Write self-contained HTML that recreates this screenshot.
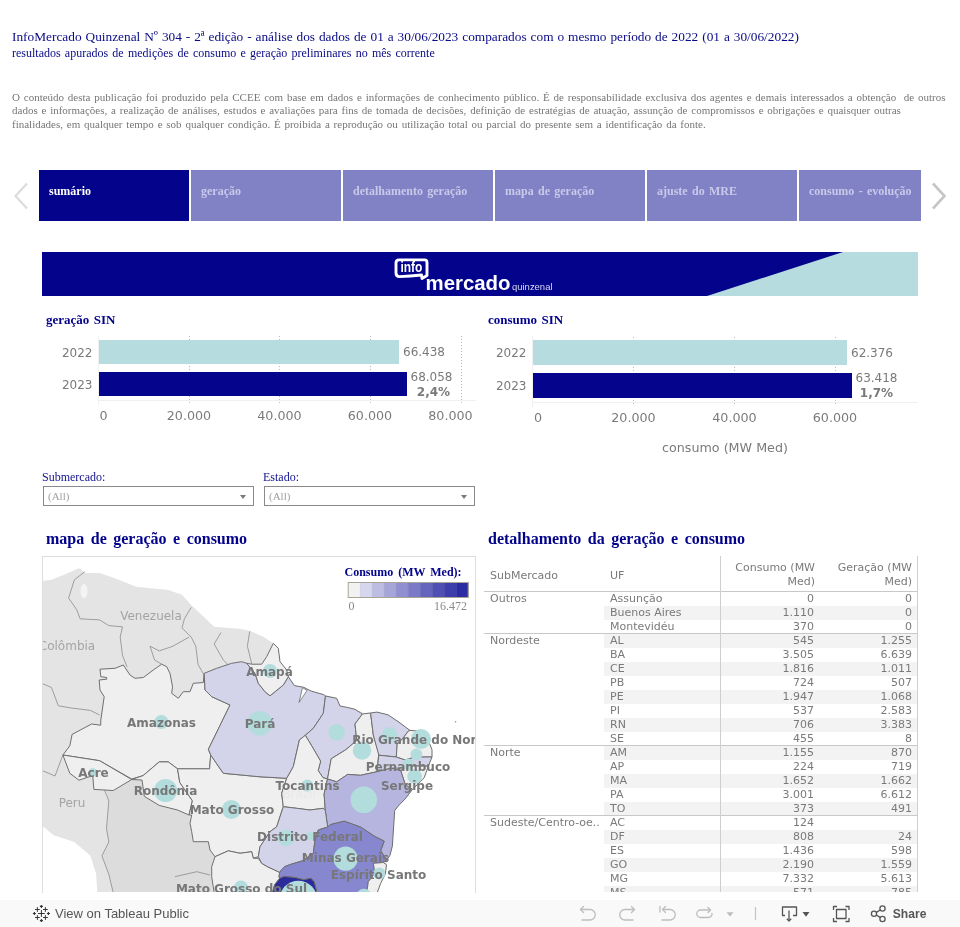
<!DOCTYPE html>
<html><head><meta charset="utf-8">
<style>
*{margin:0;padding:0;box-sizing:border-box}
html,body{width:960px;height:927px;overflow:hidden;background:#fff}
body{position:relative;font-family:"Liberation Serif",serif}
.a{position:absolute;white-space:nowrap}
.t1{left:12px;top:28.5px;font-size:13.33px;word-spacing:0.6px;color:#0a0a88;line-height:16px}
.t2{left:12px;top:45px;font-size:12px;word-spacing:1.2px;color:#0a0a88;line-height:16px}
.disc{left:12px;top:90.6px;font-size:11px;word-spacing:1.05px;color:#767676;line-height:13.75px}
.tab{position:absolute;top:170px;height:51px;width:150px;background:#8181c6;color:#c9c9e9;font-weight:bold;font-size:12px;word-spacing:1.3px;padding:14px 0 0 10px}
.tab.sel{background:#03038c;color:#fff}
.banner{left:42px;top:252px;width:876px;height:44px;background:#03038c;overflow:hidden}
.sans{font-family:"DejaVu Sans",sans-serif}
.ctitle{font-weight:bold;font-size:13px;color:#03036e}
.lbl{font-family:"DejaVu Sans",sans-serif;font-size:12.5px;color:#777}
.flt{font-size:12px;color:#12128e}
.dd{position:absolute;height:20px;border:1px solid #8a8a8a;background:#fff;font-size:11px;color:#a0a0a0;padding:3px 0 0 4px;font-family:"Liberation Serif",serif}
.dd:after{content:"";position:absolute;right:7px;top:8px;border-left:3.5px solid transparent;border-right:3.5px solid transparent;border-top:4px solid #7a7a7a}
.sec{font-weight:bold;font-size:16px;color:#02028a;word-spacing:2.5px;line-height:20px}
.tbl{font-family:"DejaVu Sans",sans-serif;font-size:11px;color:#7a7a7a;line-height:14px}
.tbl .r{text-align:right}
.band{background:#f3f3f3}
.hl{height:1px;background:#c8c8c8}
.vl{width:1px;background:#cfcfcf}
.toolbar{left:0;top:900px;width:960px;height:27px;background:#f9f9f9}
</style></head><body><div id="wrap" style="position:absolute;left:0;top:0;width:960px;height:927px;will-change:transform">
<div class="a t1">InfoMercado Quinzenal Nº 304 - 2ª edição - análise dos dados de 01 a 30/06/2023 comparados com o mesmo período de 2022 (01 a 30/06/2022)</div>
<div class="a t2">resultados apurados de medições de consumo e geração preliminares no mês corrente</div>
<div class="a disc">O conteúdo desta publicação foi produzido pela CCEE com base em dados e informações de conhecimento público. É de responsabilidade exclusiva dos agentes e demais interessados a obtenção&nbsp; de outros<br>dados e informações, a realização de análises, estudos e avaliações para fins de tomada de decisões, definição de estratégias de atuação, assunção de compromissos e obrigações e quaisquer outras<br>finalidades, em qualquer tempo e sob qualquer condição. É proibida a reprodução ou utilização total ou parcial do presente sem a identificação da fonte.</div>

<!-- tabs -->
<svg class="a" style="left:13px;top:182px" width="16" height="28"><path d="M14 1.5 L2.5 14 L14 26.5" fill="none" stroke="#dcdcdc" stroke-width="2.2"/></svg>
<div class="tab sel" style="left:39px">sumário</div>
<div class="tab" style="left:191px">geração</div>
<div class="tab" style="left:343px">detalhamento geração</div>
<div class="tab" style="left:495px">mapa de geração</div>
<div class="tab" style="left:647px">ajuste do MRE</div>
<div class="tab" style="left:799px;width:122px">consumo - evolução</div>
<svg class="a" style="left:931px;top:182px" width="16" height="28"><path d="M2 1.5 L13.5 14 L2 26.5" fill="none" stroke="#c6c6c6" stroke-width="2.6"/></svg>

<!-- banner -->
<div class="a banner">
<svg width="876" height="44" style="position:absolute;left:0;top:0"><polygon points="801,0 876,0 876,44 665,44" fill="#b6dce0"/>
<path d="M357 7.9 H382.5 Q385 7.9 385 10.4 V23.6 L380 26.6 L379.6 23 Q368 24.4 357.5 24.6 Q354 24.6 354 21 V11 Q354 7.9 357 7.9 Z" fill="none" stroke="#fff" stroke-width="2.9" stroke-linejoin="round"/>
<text x="358.4" y="20" font-family="Liberation Sans,sans-serif" font-weight="bold" font-size="14.5" fill="#fff" textLength="22" lengthAdjust="spacingAndGlyphs">info</text>
<text x="383.5" y="38.2" font-family="Liberation Sans,sans-serif" font-weight="bold" font-size="20.4" fill="#fff" textLength="85" lengthAdjust="spacingAndGlyphs">mercado</text>
<text x="470" y="38.2" font-family="Liberation Sans,sans-serif" font-size="9.8" fill="#dcdcf0" textLength="40.5" lengthAdjust="spacingAndGlyphs">quinzenal</text>
</svg>
</div>


<!-- charts -->
<svg class="a" style="left:0;top:300px" width="960" height="170" viewBox="0 300 960 170">
<g font-family="Liberation Serif,serif" font-weight="bold" font-size="13" fill="#02028a" word-spacing="1.2">
<text x="46" y="324">geração SIN</text>
<text x="488" y="324">consumo SIN</text>
</g>
<g stroke="#f0f0f0" stroke-width="1" fill="none">
<line x1="98.5" y1="336" x2="98.5" y2="405"/>
<line x1="98" y1="400.5" x2="476" y2="400.5"/>
<line x1="532.5" y1="336" x2="532.5" y2="407"/>
<line x1="532" y1="402.5" x2="918" y2="402.5"/>
</g>
<g stroke="#bcbcbc" stroke-width="1" stroke-dasharray="1 2" fill="none">
<line x1="189.5" y1="336" x2="189.5" y2="404"/>
<line x1="279.5" y1="336" x2="279.5" y2="404"/>
<line x1="370.5" y1="336" x2="370.5" y2="404"/>
<line x1="461.5" y1="336" x2="461.5" y2="404"/>
<line x1="633.5" y1="337" x2="633.5" y2="406"/>
<line x1="734.5" y1="337" x2="734.5" y2="406"/>
<line x1="835.5" y1="337" x2="835.5" y2="406"/>
</g>
<rect x="99" y="340" width="300" height="24" fill="#b6dce0"/>
<rect x="99" y="372" width="308" height="24" fill="#04048c"/>
<rect x="533" y="340" width="314" height="25" fill="#b6dce0"/>
<rect x="533" y="373" width="319" height="25" fill="#04048c"/>
<g font-family="DejaVu Sans,sans-serif" font-size="12" fill="#7a7a7a">
<text x="92.5" y="357" text-anchor="end">2022</text>
<text x="92.5" y="389" text-anchor="end">2023</text>
<text x="526.5" y="357" text-anchor="end">2022</text>
<text x="526.5" y="390" text-anchor="end">2023</text>
<text x="403" y="356">66.438</text>
<text x="431.5" y="380.6" text-anchor="middle">68.058</text>
<text x="433.5" y="395.6" text-anchor="middle" font-weight="bold">2,4%</text>
<text x="851" y="357">62.376</text>
<text x="876.5" y="381.7" text-anchor="middle">63.418</text>
<text x="876.5" y="396.6" text-anchor="middle" font-weight="bold">1,7%</text>
</g>
<g font-family="DejaVu Sans,sans-serif" font-size="12.7" fill="#7a7a7a" text-anchor="middle">
<text x="103.5" y="420">0</text>
<text x="189" y="420">20.000</text>
<text x="279.5" y="420">40.000</text>
<text x="370" y="420">60.000</text>
<text x="450.5" y="420">80.000</text>
<text x="538" y="422">0</text>
<text x="633.5" y="422">20.000</text>
<text x="734.5" y="422">40.000</text>
<text x="835" y="422">60.000</text>
<text x="725" y="451.5">consumo (MW Med)</text>
</g>
</svg>


<!-- filters -->
<div class="a flt" style="left:42px;top:470px">Submercado:</div>
<div class="dd" style="left:43px;top:486px;width:211px">(All)</div>
<div class="a flt" style="left:263px;top:470px">Estado:</div>
<div class="dd" style="left:264px;top:486px;width:211px">(All)</div>

<div class="a sec" style="left:46px;top:529px">mapa de geração e consumo</div>
<div class="a sec" style="left:488px;top:529px">detalhamento da geração e consumo</div>

<!-- map -->
<svg class="a" style="left:42px;top:556px" width="434" height="336" viewBox="42 556 434 336">
<rect x="41" y="555" width="436" height="338" fill="#e4e4e4"/>
<polygon points="106,790 113.3,790.5 131.7,780.2 142,779 144.3,796.3 159.2,805.4 177.5,810 189,815.7 191.3,828.3 192.4,841 209.6,842 216.5,857 214.2,874.2 211.9,893 113,893 108.8,874.2 101.9,855.8 108.8,842 106.5,828.3 108.8,800.8" fill="#dcdcdc"/>
<polygon points="41,555 41,581 51.5,579.8 62.9,575.2 79,568.3 85.8,573 99.6,573 115.6,578.6 136.2,586.7 168.3,590 182,594.7 191.2,605 214.2,626.8 241.6,629 250,631 263.3,636.7 273.3,643.3 278.3,648.3 280,661.7 286.7,670 288.3,676.7 294.4,685.6 303.7,687.3 311,691 323.8,694.7 336.7,698.3 340,706 347.7,707.5 355,709.3 364.2,713 377,712.1 388,714.8 399,722.2 410,730.4 421,731.3 428.3,740.5 432,749.7 432,757 428.3,766.2 424.2,777.7 412.4,789.4 405.3,798.8 398.3,805.9 394.7,810.6 393.6,827.1 392.4,845.9 390,855.3 386.5,864.7 385.3,874.1 380.6,883.5 377.1,893 477,893 477,555" fill="#fff"/>
<polygon points="41,825 53.7,835.2 74.4,842 90.4,855.8 96.2,874.2 97.3,893 41,893" fill="#fff"/>
<ellipse cx="84" cy="591" rx="3.5" ry="7" fill="#f4f4f4"/>
<g fill="none" stroke="#8c8c8c" stroke-width="0.8">
<polyline points="84.7,571.8 74.4,579.8 68.6,598.1 76.7,609.6 80.1,618.8 99.6,619.9 108.8,625.6 122.5,626.8 120.2,637.1 122.5,655.4 127.1,666.9"/>
<polyline points="191.2,607.3 184.4,618.8 182,627.9 191.2,637.1 195.8,646.2 198.1,664.6 203.3,673.7"/>
<polyline points="150,646.2 159.2,650.9 173,646.2 189,637.1"/>
<polyline points="150,646.2 154.6,660 161.7,664.2"/>
<polyline points="221,632.5 214.2,644 223.3,660 228,664.6"/>
<polyline points="249.7,631.4 247.4,646.2 250.8,660 252,665.8"/>
<polyline points="41,683 51.5,687.5 58.3,705.8 72,708.1 90.4,710.4 99.6,715"/>
<polyline points="104.2,789.4 108.8,800.8 106.5,828.3 108.8,842 101.9,855.8 108.8,874.2 113.3,893"/>
<polyline points="175,876.7 196.7,871.7 210,875"/>
<polyline points="41,770 55,776 62.9,755"/>
</g>
<g stroke="#6f6f6f" stroke-width="1" stroke-linejoin="round">
<polygon points="100,669.2 115,668.3 123.3,665 126.7,670 130,675 135,678.3 143.3,677.5 153.3,670 161.7,664.2 166.7,666.7 170,673.3 172.5,686.7 171.7,693.3 178.3,698.3 183.3,691.7 190,691.7 193.3,683.3 203.3,682.5 204.2,673.3 205,690 211.7,696.7 230,705 208.4,749.3 210.7,755 209.6,768.8 177.5,768.8 168.3,761.9 159.2,761.9 143.1,775.6 131.7,779 99.6,760.7 62.9,755 69.8,745.8 72.1,734.4 91.6,724 100.7,725.2 100.8,720 104.2,696.7 100,690 99.2,680 106.7,679.2 106.7,677.5 100.8,676.7" fill="#efefef"/>
<polygon points="62.9,755 99.6,760.7 131.7,779.5 113.3,790.5 93.9,789.4 92.7,775.6 79,780.2 69.8,773.3" fill="#efefef"/>
<polygon points="131.7,779.5 143.1,775.6 159.2,761.9 168.3,761.9 177.5,768.8 179.8,782.5 192.4,800.8 189,815 177.5,810 159.2,805.4 144.3,796.3 142,780" fill="#efefef"/>
<polygon points="177.5,768.8 209.6,768.8 210.7,755 223.3,773.3 260,776.8 286.7,778.3 281.7,793.3 283.3,806.7 276.7,826.7 270,831.7 260,846.7 258.3,856.7 253.3,858.3 251.7,851.7 240,853.3 228.3,850.8 215,856.7 210,850 208.3,841.7 193.3,841.7 191.7,831.7 190,823.3 191.7,815 189,815 192.4,800.8 179.8,782.5" fill="#efefef"/>
<polygon points="215,856.7 228.3,850.8 240,853.3 251.7,851.7 253.3,858.3 258.3,858.3 261.7,863.3 267.3,866.6 279.7,872.4 279,876.8 279.7,878.2 274.6,884.8 272.4,893 214.2,893 211.7,876.7 211.7,866.7" fill="#efefef"/>
<polygon points="204.2,673.3 216.7,668.3 231.7,663.3 241.7,661.7 246.7,663.3 255,673.3 258.3,683.3 265,691.7 270,695.8 275,691.7 283.3,685 288.3,676.7 294.4,685.6 303.7,687.3 311,691 323.8,694.7 325.5,696 323.3,713.3 313.3,728.3 305.3,735.3 299.4,740 293.3,766.7 286.7,778.3 260,776.8 223.3,773.3 210.7,755 208.4,749.3 230,705 211.7,696.7 205,690" fill="#d3d3ea"/>
<polygon points="273.3,643.3 278.3,648.3 280,661.7 286.7,670 288.3,676.7 283.3,685 275,691.7 270,695.8 265,691.7 258.3,683.3 255,673.3 246.7,663.3 251.7,664.2 261.7,664.2 266.7,656.7" fill="#efefef"/>
<polygon points="325.5,696 336.7,698.3 340,706 347.7,707.5 355,709.3 362.4,714 355,724 356.8,740.5 345.8,749.7 331.2,758.8 327.5,779 323,777.7 318.2,770.6 320.6,761.2 312.4,747 305.3,735.3 313.3,728.3 323.3,713.3" fill="#d3d3ea"/>
<polygon points="305.3,735.3 312.4,747 320.6,761.2 318.2,770.6 323,777.7 327.5,779 324.1,794.1 325.3,810.6 323.3,808.3 310,810 296.7,808.3 283.3,806.7 281.7,793.3 286.7,778.3 293.3,766.7 299.4,740" fill="#efefef"/>
<polygon points="362.4,714 370.6,713 373.3,735 378.8,753.3 377,771.7 360.5,775.3 347.7,774.4 336.7,781.8 327.5,779 331.2,758.8 345.8,749.7 356.8,740.5 355,724" fill="#efefef"/>
<polygon points="370.6,713 377,712.1 388,714.8 399,722.2 410,730.4 408.2,731.3 402.7,738.7 397.2,744.2 396.3,757 378.8,755.2 373.3,735" fill="#d3d3ea"/>
<polygon points="410,730.4 421,731.3 428.3,740.5 432,749.7 432,757 415,757 405,760 396.3,757 397.2,744.2 402.7,738.7 408.2,731.3" fill="#efefef"/>
<polygon points="378.8,755.2 396.3,757 405,760 415,757 432,757 428.3,766.2 415,766 405,768 391.2,768.2 377,771.7" fill="#d3d3ea"/>
<polygon points="415,766 428.3,766.2 424.2,777.7 412.4,789.4 405.3,784.7 400.7,770.6 405,768" fill="#efefef"/>
<polygon points="327.5,779 336.7,781.8 347.7,774.4 360.5,775.3 377,771.7 391.2,768.2 400.7,770.6 405.3,784.7 412.4,789.4 405.3,798.8 398.3,805.9 394.7,810.6 393.6,827.1 392.4,845.9 390,855.3 386.5,860 380.7,850.6 384.2,841.2 374.8,836.5 360.6,827.1 344.2,821.2 330,824.7 327.7,827 325.3,810.6 324.1,794.1" fill="#b5b5df"/>
<polygon points="283.3,806.7 296.7,808.3 310,810 323.3,808.3 325.3,810.6 327.7,827 318.3,830 315,840 313.3,853.3 303,860.7 297.9,862.2 290.6,864.4 284.8,866.6 281.2,870.2 279.7,872.4 267.3,866.6 261.7,863.3 258.3,856.7 260,846.7 270,831.7 276.7,826.7" fill="#d3d3ea"/>
<polygon points="318.3,830 327.7,827 330,824.7 344.2,821.2 360.6,827.1 374.8,836.5 384.2,841.2 380.7,850.6 386.5,860 383.3,862.5 373.3,863.3 375,873.3 368.3,881.7 366.7,893 316.5,893 316.2,889.2 314.3,881.9 311,878.2 303.8,879.7 295,877.5 284,876.4 279.7,878.2 279,876.8 279.7,872.4 281.2,870.2 284.8,866.6 290.6,864.4 297.9,862.2 303,860.7 313.3,853.3 315,840" fill="#8787d0"/>
<polygon points="373.3,863.3 383.3,862.5 386.5,864.7 385.3,874.1 380.6,883.5 377.1,893 366.7,893 368.3,881.7 375,873.3" fill="#efefef"/>
<polygon points="279.7,878.2 284,876.4 295,877.5 303.8,879.7 311,878.2 314.3,881.9 316.2,889.2 316.5,893 272.4,893 274.6,884.8" fill="#2b2b9b"/>
</g>
<path d="M302.5 687.6 L307 690.5 L299 702.5 Z" fill="#fff" stroke="#6f6f6f" stroke-width="0.8" stroke-linejoin="round"/>
<text x="299" y="797.5" font-family="DejaVu Sans,sans-serif" font-size="12" fill="#e8e8e8" text-anchor="middle">Brazil</text>
<circle cx="455.6" cy="721.8" r="0.8" fill="#999"/>
<g fill="#b3dcdd">
<circle cx="270" cy="671" r="7"/>
<circle cx="259.8" cy="723.3" r="12.4"/>
<circle cx="161.3" cy="722" r="7"/>
<circle cx="92.7" cy="772.2" r="4"/>
<circle cx="165.6" cy="790.5" r="11.5"/>
<circle cx="231.4" cy="809.5" r="9.5"/>
<circle cx="336.7" cy="732.3" r="8.3"/>
<circle cx="362" cy="750.6" r="9.2"/>
<circle cx="389.5" cy="735" r="7.7"/>
<circle cx="421" cy="739" r="10"/>
<circle cx="416.4" cy="754.3" r="5.9"/>
<circle cx="408.2" cy="764.3" r="5.9"/>
<circle cx="414.6" cy="776.3" r="7.3"/>
<circle cx="363.8" cy="799.8" r="13.3"/>
<circle cx="307.3" cy="785.5" r="5.9"/>
<circle cx="286" cy="838" r="8.2"/>
<circle cx="310.4" cy="836" r="4"/>
<circle cx="345.6" cy="858.7" r="12.1"/>
<circle cx="379.3" cy="873.5" r="6"/>
<circle cx="241" cy="887.5" r="7"/>
<circle cx="298.3" cy="899.7" r="18.9"/>
<circle cx="364" cy="896.5" r="7.8"/>
</g>
<g font-family="DejaVu Sans,sans-serif" font-size="12" fill="#a4a4a4" text-anchor="middle">
<text x="151" y="620">Venezuela</text>
<text x="67" y="650">Colômbia</text>
<text x="72" y="806.6">Peru</text>
</g>
<g font-family="DejaVu Sans,sans-serif" font-weight="bold" font-size="12" fill="#777" text-anchor="middle">
<text x="269.5" y="676">Amapá</text>
<text x="260" y="728">Pará</text>
<text x="161.5" y="727">Amazonas</text>
<text x="93.5" y="777">Acre</text>
<text x="165.5" y="795">Rondônia</text>
<text x="232" y="814">Mato Grosso</text>
<text x="307.5" y="790">Tocantins</text>
<text x="421.3" y="744">Rio Grande do Norte</text>
<text x="408" y="771">Pernambuco</text>
<text x="407" y="790">Sergipe</text>
<text x="310" y="841">Distrito Federal</text>
<text x="345.5" y="862">Minas Gerais</text>
<text x="378.5" y="879">Espírito Santo</text>
<text x="241.5" y="893">Mato Grosso do Sul</text>
</g>
</svg>
<svg class="a" style="left:340px;top:560px" width="136" height="55" viewBox="340 560 136 55">
<text x="344.5" y="576" font-family="Liberation Serif,serif" font-weight="bold" font-size="12" fill="#02028a" word-spacing="2">Consumo (MW Med):</text>
<rect x="348.20" y="582.5" width="12.30" height="15" fill="#f2f2f2"/>
<rect x="360.20" y="582.5" width="12.30" height="15" fill="#d6d6ee"/>
<rect x="372.20" y="582.5" width="12.30" height="15" fill="#bdbde4"/>
<rect x="384.20" y="582.5" width="12.30" height="15" fill="#a5a5da"/>
<rect x="396.20" y="582.5" width="12.30" height="15" fill="#8f8fd1"/>
<rect x="408.20" y="582.5" width="12.30" height="15" fill="#7a7ac8"/>
<rect x="420.20" y="582.5" width="12.30" height="15" fill="#6565be"/>
<rect x="432.20" y="582.5" width="12.30" height="15" fill="#5050b4"/>
<rect x="444.20" y="582.5" width="12.30" height="15" fill="#3d3dab"/>
<rect x="456.20" y="582.5" width="12.30" height="15" fill="#2c2ca2"/>
<line x1="360.20" y1="583" x2="360.20" y2="597" stroke="#000" stroke-opacity="0.06" stroke-width="1"/>
<line x1="372.20" y1="583" x2="372.20" y2="597" stroke="#000" stroke-opacity="0.06" stroke-width="1"/>
<line x1="384.20" y1="583" x2="384.20" y2="597" stroke="#000" stroke-opacity="0.06" stroke-width="1"/>
<line x1="396.20" y1="583" x2="396.20" y2="597" stroke="#000" stroke-opacity="0.06" stroke-width="1"/>
<line x1="408.20" y1="583" x2="408.20" y2="597" stroke="#000" stroke-opacity="0.06" stroke-width="1"/>
<line x1="420.20" y1="583" x2="420.20" y2="597" stroke="#000" stroke-opacity="0.06" stroke-width="1"/>
<line x1="432.20" y1="583" x2="432.20" y2="597" stroke="#000" stroke-opacity="0.06" stroke-width="1"/>
<line x1="444.20" y1="583" x2="444.20" y2="597" stroke="#000" stroke-opacity="0.06" stroke-width="1"/>
<line x1="456.20" y1="583" x2="456.20" y2="597" stroke="#000" stroke-opacity="0.06" stroke-width="1"/>
<rect x="348.2" y="582.5" width="120" height="15" fill="none" stroke="#a8a595" stroke-width="1"/>
<text x="348.5" y="610" font-family="Liberation Serif,serif" font-size="12" fill="#8a8a8a">0</text>
<text x="467" y="610" font-family="Liberation Serif,serif" font-size="12" fill="#8a8a8a" text-anchor="end">16.472</text>
</svg>
<div class="a" style="left:42px;top:556px;width:434px;height:337px;border:1px solid #dedede;border-bottom:none"></div>
<!-- /map -->
<!-- table -->
<div class="a tbl" style="left:484px;top:556px;width:434px;height:336px;overflow:hidden">
<div class="a" style="left:6px;top:13px">SubMercado</div>
<div class="a" style="left:126px;top:13px">UF</div>
<div class="a r" style="left:236px;top:5px;width:95px;line-height:14px">Consumo (MW<br>Med)</div>
<div class="a r" style="left:336px;top:5px;width:92px;line-height:14px">Geração (MW<br>Med)</div>
<div class="a band" style="left:120px;top:49.5px;width:313px;height:14px"></div>
<div class="a band" style="left:120px;top:77.5px;width:313px;height:14px"></div>
<div class="a band" style="left:120px;top:105.5px;width:313px;height:14px"></div>
<div class="a band" style="left:120px;top:133.5px;width:313px;height:14px"></div>
<div class="a band" style="left:120px;top:161.5px;width:313px;height:14px"></div>
<div class="a band" style="left:120px;top:189.5px;width:313px;height:14px"></div>
<div class="a band" style="left:120px;top:217.5px;width:313px;height:14px"></div>
<div class="a band" style="left:120px;top:245.5px;width:313px;height:14px"></div>
<div class="a band" style="left:120px;top:273.5px;width:313px;height:14px"></div>
<div class="a band" style="left:120px;top:301.5px;width:313px;height:14px"></div>
<div class="a band" style="left:120px;top:329.5px;width:313px;height:14px"></div>
<div class="a" style="left:6px;top:35.5px">Outros</div>
<div class="a" style="left:126px;top:35.5px">Assunção</div>
<div class="a r" style="left:236px;top:35.5px;width:94px">0</div>
<div class="a r" style="left:336px;top:35.5px;width:92px">0</div>
<div class="a" style="left:126px;top:49.5px">Buenos Aires</div>
<div class="a r" style="left:236px;top:49.5px;width:94px">1.110</div>
<div class="a r" style="left:336px;top:49.5px;width:92px">0</div>
<div class="a" style="left:126px;top:63.5px">Montevidéu</div>
<div class="a r" style="left:236px;top:63.5px;width:94px">370</div>
<div class="a r" style="left:336px;top:63.5px;width:92px">0</div>
<div class="a hl" style="left:0;top:77.0px;width:433px"></div>
<div class="a" style="left:6px;top:77.5px">Nordeste</div>
<div class="a" style="left:126px;top:77.5px">AL</div>
<div class="a r" style="left:236px;top:77.5px;width:94px">545</div>
<div class="a r" style="left:336px;top:77.5px;width:92px">1.255</div>
<div class="a" style="left:126px;top:91.5px">BA</div>
<div class="a r" style="left:236px;top:91.5px;width:94px">3.505</div>
<div class="a r" style="left:336px;top:91.5px;width:92px">6.639</div>
<div class="a" style="left:126px;top:105.5px">CE</div>
<div class="a r" style="left:236px;top:105.5px;width:94px">1.816</div>
<div class="a r" style="left:336px;top:105.5px;width:92px">1.011</div>
<div class="a" style="left:126px;top:119.5px">PB</div>
<div class="a r" style="left:236px;top:119.5px;width:94px">724</div>
<div class="a r" style="left:336px;top:119.5px;width:92px">507</div>
<div class="a" style="left:126px;top:133.5px">PE</div>
<div class="a r" style="left:236px;top:133.5px;width:94px">1.947</div>
<div class="a r" style="left:336px;top:133.5px;width:92px">1.068</div>
<div class="a" style="left:126px;top:147.5px">PI</div>
<div class="a r" style="left:236px;top:147.5px;width:94px">537</div>
<div class="a r" style="left:336px;top:147.5px;width:92px">2.583</div>
<div class="a" style="left:126px;top:161.5px">RN</div>
<div class="a r" style="left:236px;top:161.5px;width:94px">706</div>
<div class="a r" style="left:336px;top:161.5px;width:92px">3.383</div>
<div class="a" style="left:126px;top:175.5px">SE</div>
<div class="a r" style="left:236px;top:175.5px;width:94px">455</div>
<div class="a r" style="left:336px;top:175.5px;width:92px">8</div>
<div class="a hl" style="left:0;top:189.0px;width:433px"></div>
<div class="a" style="left:6px;top:189.5px">Norte</div>
<div class="a" style="left:126px;top:189.5px">AM</div>
<div class="a r" style="left:236px;top:189.5px;width:94px">1.155</div>
<div class="a r" style="left:336px;top:189.5px;width:92px">870</div>
<div class="a" style="left:126px;top:203.5px">AP</div>
<div class="a r" style="left:236px;top:203.5px;width:94px">224</div>
<div class="a r" style="left:336px;top:203.5px;width:92px">719</div>
<div class="a" style="left:126px;top:217.5px">MA</div>
<div class="a r" style="left:236px;top:217.5px;width:94px">1.652</div>
<div class="a r" style="left:336px;top:217.5px;width:92px">1.662</div>
<div class="a" style="left:126px;top:231.5px">PA</div>
<div class="a r" style="left:236px;top:231.5px;width:94px">3.001</div>
<div class="a r" style="left:336px;top:231.5px;width:92px">6.612</div>
<div class="a" style="left:126px;top:245.5px">TO</div>
<div class="a r" style="left:236px;top:245.5px;width:94px">373</div>
<div class="a r" style="left:336px;top:245.5px;width:92px">491</div>
<div class="a hl" style="left:0;top:259.0px;width:433px"></div>
<div class="a" style="left:6px;top:259.5px">Sudeste/Centro-oe..</div>
<div class="a" style="left:126px;top:259.5px">AC</div>
<div class="a r" style="left:236px;top:259.5px;width:94px">124</div>
<div class="a r" style="left:336px;top:259.5px;width:92px"></div>
<div class="a" style="left:126px;top:273.5px">DF</div>
<div class="a r" style="left:236px;top:273.5px;width:94px">808</div>
<div class="a r" style="left:336px;top:273.5px;width:92px">24</div>
<div class="a" style="left:126px;top:287.5px">ES</div>
<div class="a r" style="left:236px;top:287.5px;width:94px">1.436</div>
<div class="a r" style="left:336px;top:287.5px;width:92px">598</div>
<div class="a" style="left:126px;top:301.5px">GO</div>
<div class="a r" style="left:236px;top:301.5px;width:94px">2.190</div>
<div class="a r" style="left:336px;top:301.5px;width:92px">1.559</div>
<div class="a" style="left:126px;top:315.5px">MG</div>
<div class="a r" style="left:236px;top:315.5px;width:94px">7.332</div>
<div class="a r" style="left:336px;top:315.5px;width:92px">5.613</div>
<div class="a" style="left:126px;top:329.5px">MS</div>
<div class="a r" style="left:236px;top:329.5px;width:94px">571</div>
<div class="a r" style="left:336px;top:329.5px;width:92px">785</div>
<div class="a hl" style="left:0;top:35px;width:433px"></div>
<div class="a vl" style="left:236px;top:0;height:336px"></div>
<div class="a vl" style="left:433px;top:0;height:336px"></div>
</div>
<div class="toolbar a"></div>
<svg class="a" style="left:28px;top:900px" width="28" height="27" viewBox="28 900 28 27"><g stroke="#333" fill="none">
<path d="M38.0 913.5H44.8M41.4 910.1V916.9" stroke-width="1.0"/>
<path d="M35.0 909.5H39.8M37.4 907.1V911.9" stroke-width="0.95"/>
<path d="M43.0 909.5H47.8M45.4 907.1V911.9" stroke-width="0.95"/>
<path d="M35.0 917.5H39.8M37.4 915.1V919.9" stroke-width="0.95"/>
<path d="M43.0 917.5H47.8M45.4 915.1V919.9" stroke-width="0.95"/>
<path d="M39.9 906.4H42.9M41.4 904.9V907.9" stroke-width="1.1"/>
<path d="M39.9 920.6H42.9M41.4 919.1V922.1" stroke-width="1.1"/>
<path d="M32.9 913.5H35.9M34.4 912.0V915.0" stroke-width="1.1"/>
<path d="M46.9 913.5H49.9M48.4 912.0V915.0" stroke-width="1.1"/>
</g></svg>
<div class="a" style="left:55px;top:906px;font-family:'Liberation Sans',sans-serif;font-size:13px;color:#555;line-height:16px">View on Tableau Public</div>
<svg class="a" style="left:570px;top:900px" width="390" height="27" viewBox="570 900 390 27">
<g fill="none" stroke="#bdbdbd" stroke-width="1.3" stroke-linecap="round" stroke-linejoin="round">
<path d="M581 909.5 H590 A5.2 5.2 0 0 1 590 920 H582"/><path d="M583.5 906.5 L580.5 909.5 L583.5 912.5"/>
<path d="M634 909.5 H625 A5.2 5.2 0 0 0 625 920 H633"/><path d="M631.5 906.5 L634.5 909.5 L631.5 912.5"/>
<path d="M660 906.5 V912"/><path d="M663 909.5 H670 A5.2 5.2 0 0 1 670 920 H662"/><path d="M665.5 906.5 L662.5 909.5 L665.5 912.5"/>
<path d="M710 910 H700.5 A3.6 3.6 0 0 0 700.5 917.5 H708.5 A3.6 3.6 0 0 0 712 913.5"/><path d="M708 907.5 L710.5 910 L708 912.5"/>
</g>
<path d="M726.5 912.3 H733.5 L730 916.5 Z" fill="#bdbdbd"/>
<path d="M755.5 907 V920" stroke="#c4c4c4" stroke-width="1.2"/>
<g fill="none" stroke="#555" stroke-width="1.3" stroke-linejoin="round">
<path d="M785 915.5 H782.5 V907 H796.5 V915.5 H793"/><path d="M789 910.5 V921"/><path d="M786.8 918.8 L789 921 L791.2 918.8"/>
<path d="M833.5 910 V906.5 H837 M845.5 906.5 H849 V910 M849 918 V921.5 H845.5 M837 921.5 H833.5 V918"/>
<rect x="836.5" y="909.5" width="9.5" height="9"/>
<circle cx="882.5" cy="908.5" r="2.6"/><circle cx="874" cy="913.7" r="2.6"/><circle cx="882.5" cy="919" r="2.6"/>
<path d="M876.3 912.4 L880.2 910 M876.3 915 L880.2 917.4"/>
</g>
<path d="M802.5 912 H809.5 L806 916.8 Z" fill="#555"/>
<text x="892.8" y="918" font-family="Liberation Sans,sans-serif" font-weight="bold" font-size="13" fill="#555" textLength="33.6" lengthAdjust="spacingAndGlyphs">Share</text>
</svg>

</div></body></html>
